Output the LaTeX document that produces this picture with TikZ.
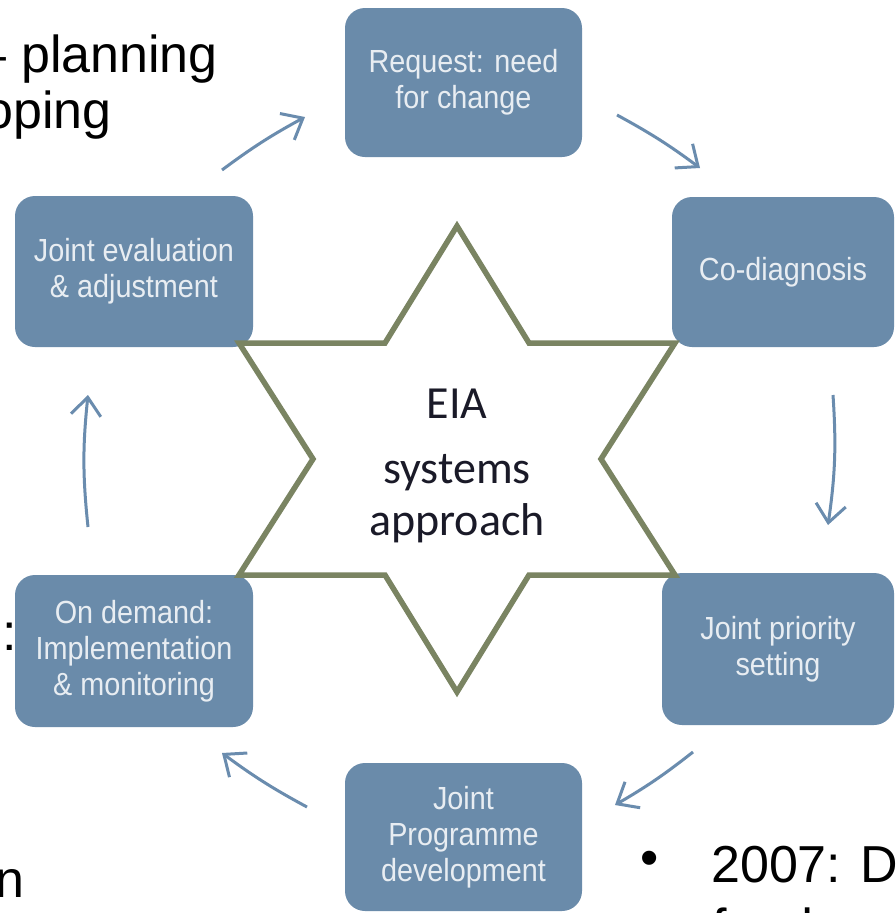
\documentclass[tikz,border=0pt]{standalone}
\usepackage{fontspec}
\setmainfont{Liberation Sans}
\newfontfamily\boxfont[FakeStretch=0.9]{Liberation Sans}
\newfontfamily\calfont{Carlito}
\usetikzlibrary{arrows.meta}
\definecolor{boxblue}{HTML}{6A8BAA}
\definecolor{boxtext}{HTML}{E8EDF2}
\definecolor{arrowblue}{HTML}{6A8CAE}
\definecolor{starline}{HTML}{7A8462}
\definecolor{startext}{HTML}{1A1A28}
\begin{document}
\begin{tikzpicture}[x=1pt,y=-1pt,
  stepbox/.style={draw=none, fill=boxblue, rounded corners=20pt, text=boxtext,
    font=\boxfont\fontsize{32}{36}\selectfont, align=center, inner sep=0pt},
  flow/.style={draw=arrowblue, line width=3pt,
    -{Straight Barb[length=18pt,width=30pt]}},
  bigtext/.style={font=\fontsize{52}{62}\selectfont, text=black, inner sep=0pt},
  startitle/.style={font=\calfont\fontsize{46}{52}\selectfont, text=startext, align=center, inner sep=0pt}]
\useasboundingbox (0,0) rectangle (895,913);
\clip (0,0) rectangle (895,913);
\fill[white] (0,0) rectangle (895,913);

% background slide text
\node[bigtext, anchor=base east] (t1) at (218,72) {– planning};
\node[bigtext, anchor=base east] (t2) at (112,128) {oping};
\node[bigtext, anchor=base west] (t3) at (2,650) {:};
\node[bigtext, anchor=base west] (t4) at (-5,897) {n};
\node[bigtext, anchor=center] (bul) at (650,863) {•};
\node[bigtext, anchor=base west] (t5) at (711,882) {2007: D};
\node[bigtext, anchor=base west] (t6) at (712,945) {fund};

% boxes
\node[stepbox, minimum width=237pt, minimum height=149pt] (req) at (463.5,82.5) {Request: need\\for change};
\node[stepbox, minimum width=222pt, minimum height=150pt] (codiag) at (783,272) {Co-diagnosis};
\node[stepbox, minimum width=232pt, minimum height=152pt] (prio) at (778,649) {Joint priority\\setting};
\node[stepbox, minimum width=237pt, minimum height=148pt] (prog) at (463.5,837) {Joint\\Programme\\development};
\node[stepbox, minimum width=238pt, minimum height=152pt] (impl) at (134,651) {On demand:\\Implementation\\\& monitoring};
\node[stepbox, minimum width=238pt, minimum height=151pt] (eval) at (134,271.5) {Joint evaluation\\\& adjustment};

% star
\draw[starline, line width=5.5pt, fill=white, line join=miter]
  (457,226) -- (529,343) -- (675,343) -- (601,459) -- (675,575) -- (529,575)
  -- (457,692) -- (385,575) -- (239,575) -- (313,459) -- (239,343) -- (385,343) -- cycle;
\node[startitle] (core) at (457,466) {EIA\\[13pt]systems\\approach};

% arrows
\coordinate (a1s) at (222,170); \coordinate (a1e) at (305,117);
\coordinate (a2s) at (617,115); \coordinate (a2e) at (700,168);
\coordinate (a3s) at (833,395); \coordinate (a3e) at (828,525);
\coordinate (a4s) at (693,752); \coordinate (a4e) at (615,805);
\coordinate (a5s) at (307,807); \coordinate (a5e) at (222,753);
\coordinate (a6s) at (88,527);  \coordinate (a6e) at (88,395);
\draw[flow] (a1s) to[bend left=4] (a1e);
\draw[flow] (a2s) to[bend left=4] (a2e);
\draw[flow] (a3s) to[bend left=6] (a3e);
\draw[flow] (a4s) to[bend left=4] (a4e);
\draw[flow] (a5s) to[bend left=4] (a5e);
\draw[flow] (a6s) to[bend left=6] (a6e);
\end{tikzpicture}
\end{document}
